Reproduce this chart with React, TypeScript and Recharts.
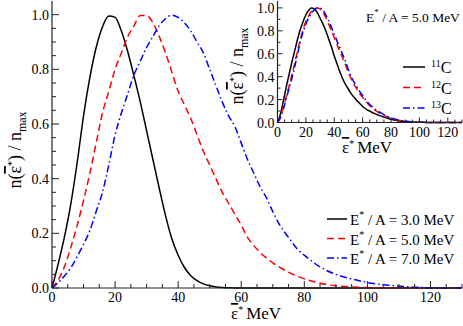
import React from "react";
import { LineChart, Line, XAxis, YAxis, CartesianGrid } from "recharts";

// energy grid (MeV) shared by all curves
const energies = [0, 2, 4, 6, 8, 10, 12, 14, 16, 18, 20, 22, 24, 26, 28, 30, 32, 34, 36, 38, 40, 42, 44, 46, 48, 50, 52, 54, 56, 58, 60, 62, 64, 66, 68, 70, 72, 75, 78, 80, 85, 90, 95, 100, 105, 110, 115, 120, 125, 130];

// main panel: E*/A = 3, 5, 7 MeV
const e3 = [0, 0.09, 0.19, 0.31, 0.46, 0.63, 0.77, 0.88, 0.955, 0.995, 0.99, 0.94, 0.865, 0.775, 0.68, 0.575, 0.47, 0.365, 0.265, 0.18, 0.12, 0.075, 0.045, 0.027, 0.015, 0.008, 0.004, 0.002, 0.001, 0, 0, 0, 0, 0, 0, 0, 0, 0, 0, 0, 0, 0, 0, 0, 0, 0, 0, 0, 0, 0];
const e5 = [0, 0.03, 0.08, 0.15, 0.23, 0.32, 0.42, 0.53, 0.64, 0.72, 0.8, 0.86, 0.92, 0.96, 0.997, 0.997, 0.97, 0.92, 0.86, 0.79, 0.72, 0.67, 0.62, 0.56, 0.5, 0.45, 0.4, 0.35, 0.31, 0.27, 0.23, 0.185, 0.155, 0.13, 0.11, 0.092, 0.077, 0.058, 0.042, 0.034, 0.017, 0.008, 0.004, 0.0015, 0.0005, 0, 0, 0, 0, 0];
const e7 = [0, 0.02, 0.045, 0.075, 0.115, 0.16, 0.21, 0.28, 0.35, 0.45, 0.56, 0.64, 0.71, 0.78, 0.83, 0.88, 0.92, 0.96, 0.985, 0.998, 0.99, 0.97, 0.94, 0.9, 0.86, 0.8, 0.74, 0.68, 0.63, 0.59, 0.53, 0.47, 0.42, 0.37, 0.33, 0.28, 0.235, 0.185, 0.14, 0.12, 0.077, 0.05, 0.033, 0.02, 0.012, 0.007, 0.003, 0.001, 0, 0];

// inset: isotopes at E*/A = 5 MeV
const c11 = [0, 0.07, 0.18, 0.3, 0.41, 0.52, 0.62, 0.72, 0.81, 0.88, 0.94, 0.98, 0.998, 0.99, 0.96, 0.91, 0.86, 0.8, 0.73, 0.66, 0.58, 0.51, 0.44, 0.38, 0.33, 0.29, 0.25, 0.22, 0.19, 0.165, 0.14, 0.12, 0.105, 0.092, 0.08, 0.07, 0.06, 0.047, 0.035, 0.028, 0.016, 0.008, 0.004, 0.002, 0.001, 0, 0, 0, 0, 0];
const c12 = [0, 0.05, 0.13, 0.22, 0.31, 0.41, 0.51, 0.62, 0.72, 0.81, 0.88, 0.93, 0.97, 0.99, 1.0, 0.99, 0.96, 0.92, 0.86, 0.8, 0.74, 0.68, 0.62, 0.56, 0.5, 0.43, 0.38, 0.33, 0.29, 0.25, 0.22, 0.19, 0.16, 0.135, 0.115, 0.097, 0.082, 0.062, 0.045, 0.036, 0.02, 0.01, 0.004, 0.002, 0.001, 0, 0, 0, 0, 0];
const c13 = [0, 0.04, 0.11, 0.2, 0.29, 0.38, 0.48, 0.59, 0.7, 0.79, 0.86, 0.915, 0.955, 0.985, 0.998, 0.998, 0.98, 0.94, 0.89, 0.83, 0.77, 0.71, 0.65, 0.59, 0.53, 0.46, 0.4, 0.35, 0.31, 0.27, 0.235, 0.2, 0.17, 0.145, 0.125, 0.105, 0.09, 0.068, 0.05, 0.04, 0.023, 0.012, 0.005, 0.002, 0.001, 0, 0, 0, 0, 0];

const xTicks = [0, 5, 10, 15, 20, 25, 30, 35, 40, 45, 50, 55, 60, 65, 70, 75, 80, 85, 90, 95, 100, 105, 110, 115, 120, 125, 130];
const mainYTicks = [0, 0.05, 0.1, 0.15, 0.2, 0.25, 0.3, 0.35, 0.4, 0.45, 0.5, 0.55, 0.6, 0.65, 0.7, 0.75, 0.8, 0.85, 0.9, 0.95, 1.0];
const insetYTicks = [0, 0.1, 0.2, 0.3, 0.4, 0.5, 0.6, 0.7, 0.8, 0.9, 1.0];

const mainLegend = ["3.0", "5.0", "7.0"];
const insetLegend = ["11", "12", "13"];
const insetNote = "5.0";

const mainRows = energies.map((x, i) => ({ x, e3: e3[i], e5: e5[i], e7: e7[i] }));
const insetRows = energies.map((x, i) => ({ x, c11: c11[i], c12: c12[i], c13: c13[i] }));

const FONT = "'Liberation Serif', 'DejaVu Serif', serif";
const AX = "#222";
const RED = "#ff0000";
const BLUE = "#0000ff";
const DASH = "7 4";
const DASHDOT = "7 3 1.5 3";

const isMul = (v: number, step: number) => Math.abs(v / step - Math.round(v / step)) < 1e-6;

const makeXTick = (big: number, small: number, dy: number) => (p: any) => {
  const v = p.payload.value;
  const major = isMul(v, 20);
  return (
    <g>
      <line x1={p.x} x2={p.x} y1={p.y} y2={p.y - (major ? big : small)} stroke={AX} strokeWidth={1} />
      {major && (
        <text x={p.x} y={p.y + dy} textAnchor="middle" fontSize={14} fontFamily={FONT} fill="#000">
          {v}
        </text>
      )}
    </g>
  );
};

const makeYTick = (big: number, small: number) => (p: any) => {
  const v = p.payload.value;
  const major = isMul(v, 0.2);
  return (
    <g>
      <line x1={p.x} x2={p.x + (major ? big : small)} y1={p.y} y2={p.y} stroke={AX} strokeWidth={1} />
      {major && (
        <text x={p.x - 3} y={p.y + 5} textAnchor="end" fontSize={14} fontFamily={FONT} fill="#000">
          {v.toFixed(1)}
        </text>
      )}
    </g>
  );
};

const Eps = () => (
  <>
    <tspan style={{ textDecoration: "overline" }}>ε</tspan>
    <tspan dy={-6} fontSize={10}>*</tspan>
  </>
);

const MainChart = () => (
  <LineChart width={463} height={326} data={mainRows} margin={{ top: 1, right: 1, bottom: 0, left: 0 }}>
    <XAxis dataKey="x" type="number" domain={[0, 130]} ticks={xTicks} interval={0} height={38} tickSize={0} tickMargin={0} tickLine={false} axisLine={{ stroke: AX, strokeWidth: 1.2 }} tick={makeXTick(7, 4, 14)} />
    <XAxis xAxisId="top" orientation="top" dataKey="x" type="number" domain={[0, 130]} height={0} tick={false} tickLine={false} axisLine={{ stroke: AX, strokeWidth: 1.2 }} />
    <YAxis type="number" domain={[0, 1.05]} ticks={mainYTicks} interval={0} width={52} tickSize={0} tickMargin={0} tickLine={false} axisLine={{ stroke: AX, strokeWidth: 1.2 }} tick={makeYTick(7, 4)} />
    <YAxis yAxisId="right" orientation="right" type="number" domain={[0, 1.05]} width={0} tick={false} tickLine={false} axisLine={{ stroke: AX, strokeWidth: 1.2 }} />
    <Line dataKey="e3" type="monotone" stroke="#000" strokeWidth={1.5} dot={false} isAnimationActive={false} />
    <Line dataKey="e5" type="monotone" stroke={RED} strokeWidth={1.5} strokeDasharray={DASH} dot={false} isAnimationActive={false} />
    <Line dataKey="e7" type="monotone" stroke={BLUE} strokeWidth={1.5} strokeDasharray={DASHDOT} dot={false} isAnimationActive={false} />
  </LineChart>
);

const InsetChart = () => (
  <LineChart width={263} height={150} data={insetRows} margin={{ top: 1, right: 1, bottom: 0, left: 0 }}>
    <CartesianGrid fill="#fff" horizontal={false} vertical={false} />
    <XAxis dataKey="x" type="number" domain={[0, 130]} ticks={xTicks} interval={0} height={27.5} tickSize={0} tickMargin={0} tickLine={false} axisLine={{ stroke: AX, strokeWidth: 1.2 }} tick={makeXTick(5, 3, 14)} />
    <XAxis xAxisId="top" orientation="top" dataKey="x" type="number" domain={[0, 130]} height={0} tick={false} tickLine={false} axisLine={{ stroke: AX, strokeWidth: 1.2 }} />
    <YAxis type="number" domain={[0, 1.06]} ticks={insetYTicks} interval={0} width={77.5} tickSize={0} tickMargin={0} tickLine={false} axisLine={{ stroke: AX, strokeWidth: 1.2 }} tick={makeYTick(5, 3)} />
    <YAxis yAxisId="right" orientation="right" type="number" domain={[0, 1.06]} width={0} tick={false} tickLine={false} axisLine={{ stroke: AX, strokeWidth: 1.2 }} />
    <Line dataKey="c11" type="monotone" stroke="#000" strokeWidth={1.5} dot={false} isAnimationActive={false} />
    <Line dataKey="c12" type="monotone" stroke={RED} strokeWidth={1.5} strokeDasharray={DASH} dot={false} isAnimationActive={false} />
    <Line dataKey="c13" type="monotone" stroke={BLUE} strokeWidth={1.5} strokeDasharray={DASHDOT} dot={false} isAnimationActive={false} />
  </LineChart>
);

const legendStyles = [
  { stroke: "#000", dash: undefined },
  { stroke: RED, dash: DASH },
  { stroke: BLUE, dash: DASHDOT },
];

const Overlay = () => (
  <svg width={463} height={326} style={{ position: "absolute", left: 0, top: 0, pointerEvents: "none" }} fontFamily={FONT}>
    {/* main axis titles */}
    <text x={231} y={319} fontSize={17}>
      <Eps />
      <tspan dy={6} dx={3}>MeV</tspan>
    </text>
    <text transform="translate(21,150) rotate(-90)" textAnchor="middle" fontSize={18}>
      n(<Eps /><tspan dy={6}>) / n</tspan>
      <tspan dy={5} fontSize={12}>max</tspan>
    </text>
    {/* inset axis titles */}
    <text x={342} y={153} fontSize={17}>
      <Eps />
      <tspan dy={6} dx={3}>MeV</tspan>
    </text>
    <text transform="translate(243,66) rotate(-90)" textAnchor="middle" fontSize={18}>
      n(<Eps /><tspan dy={6}>) / n</tspan>
      <tspan dy={5} fontSize={12}>max</tspan>
    </text>
    {/* main legend */}
    {mainLegend.map((t, i) => {
      const y = 219 + i * 19.5;
      return (
        <g key={t}>
          <line x1={327} x2={347} y1={y} y2={y} stroke={legendStyles[i].stroke} strokeWidth={1.5} strokeDasharray={legendStyles[i].dash} />
          <text x={350} y={y + 6} fontSize={15}>
            E<tspan dy={-7} fontSize={10}>*</tspan>
            <tspan dy={7}> / A = {t} MeV</tspan>
          </text>
        </g>
      );
    })}
    {/* inset note and legend */}
    <text x={366} y={22} fontSize={13.5}>
      E<tspan dy={-7} fontSize={9}>*</tspan>
      <tspan dy={7}> / A = {insetNote} MeV</tspan>
    </text>
    {insetLegend.map((t, i) => {
      const y = 67 + i * 20.5;
      return (
        <g key={t}>
          <line x1={403} x2={425} y1={y} y2={y} stroke={legendStyles[i].stroke} strokeWidth={1.5} strokeDasharray={legendStyles[i].dash} />
          <text x={431} y={y + 6} fontSize={16}>
            <tspan dy={-6} fontSize={10}>{t}</tspan>
            <tspan dy={6}>C</tspan>
          </text>
        </g>
      );
    })}
  </svg>
);

export default function App() {
  return (
    <div style={{ position: "absolute", left: 0, top: 0, width: 463, height: 326, background: "#fff" }}>
      <div style={{ position: "absolute", left: 0, top: 0 }}>
        <MainChart />
      </div>
      <div style={{ position: "absolute", left: 200, top: 0 }}>
        <InsetChart />
      </div>
      <Overlay />
    </div>
  );
}
